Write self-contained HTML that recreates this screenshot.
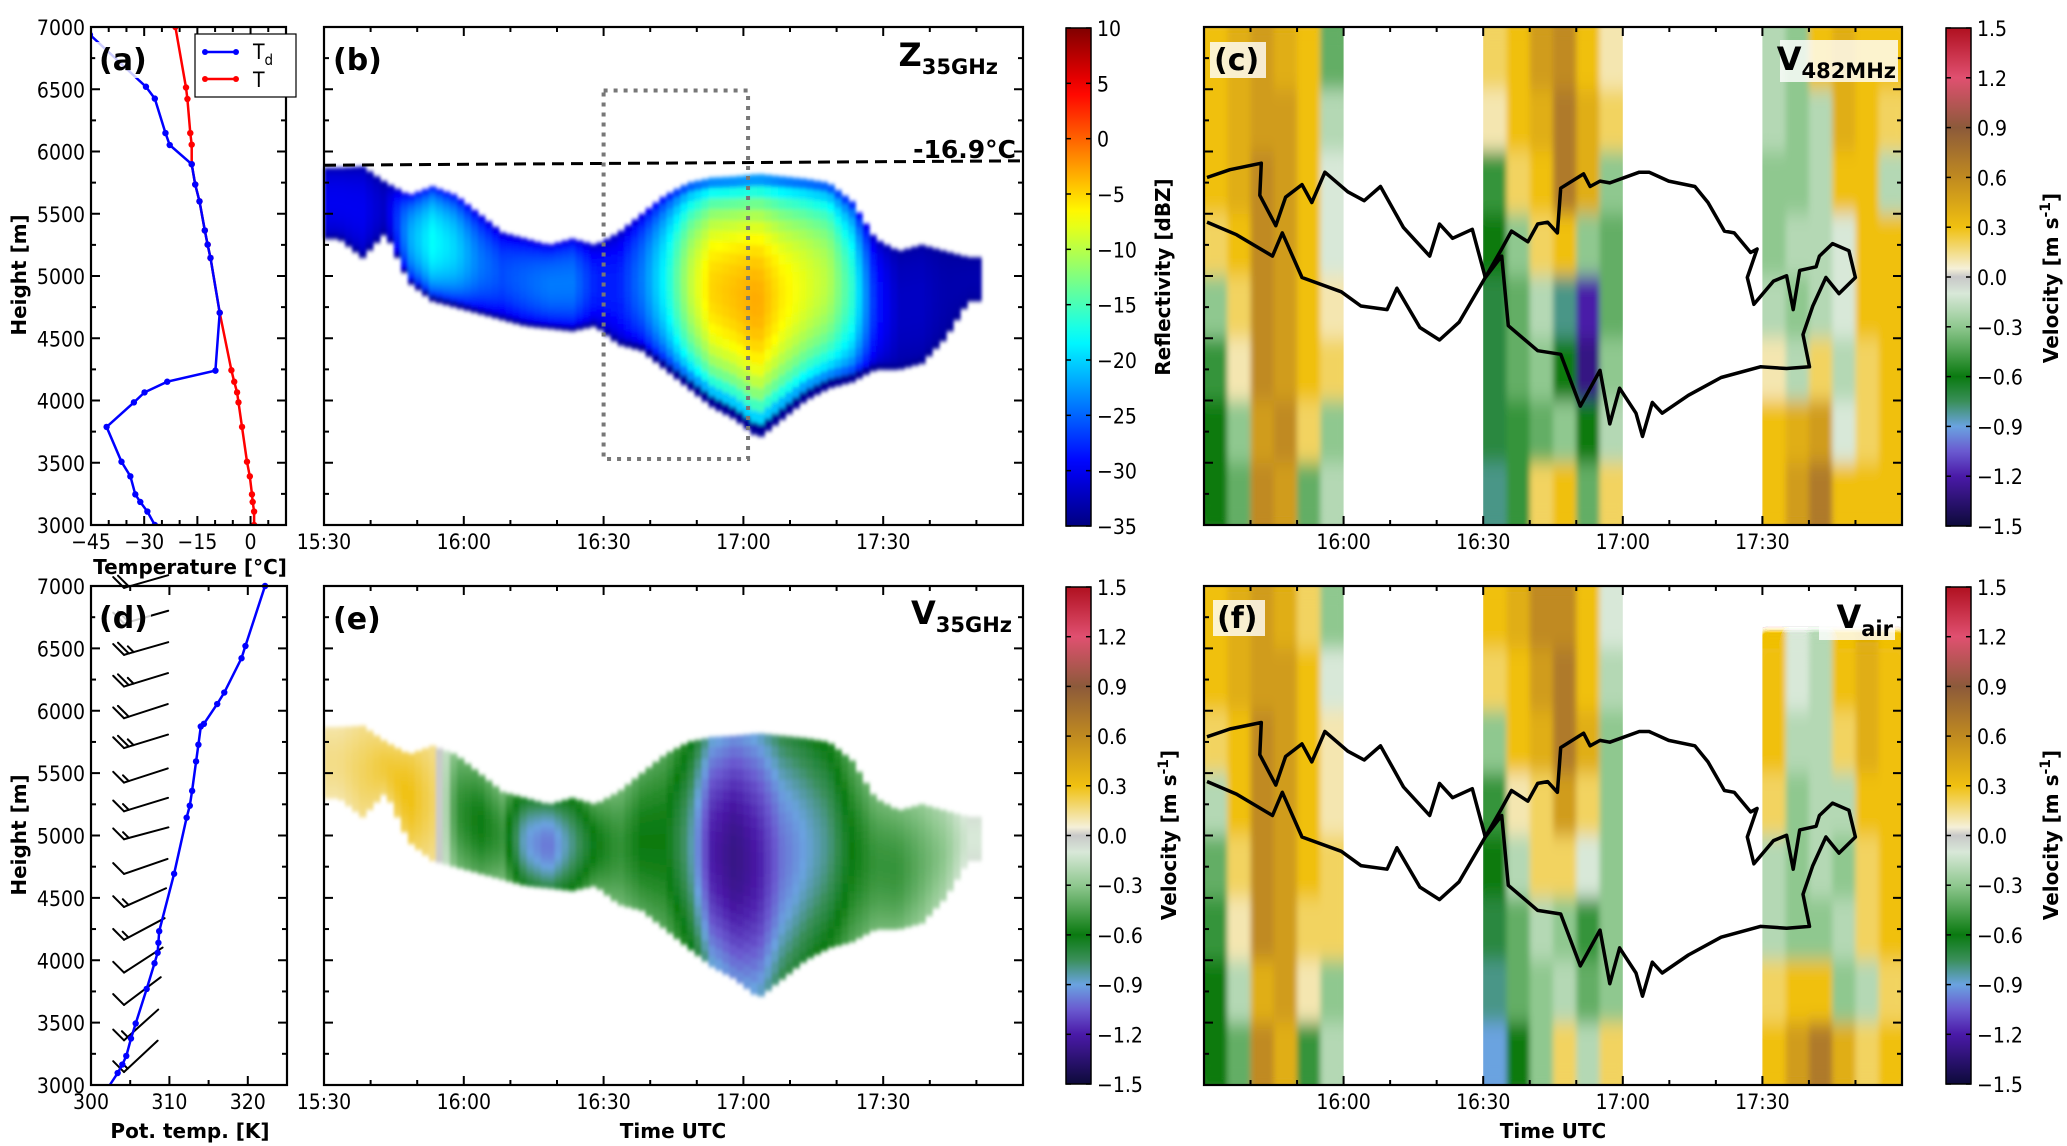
<!DOCTYPE html>
<html><head><meta charset="utf-8">
<style>
body{margin:0;background:#fff}
svg{display:block}
.tk{font-family:"DejaVu Sans Condensed","Liberation Sans Narrow","Liberation Sans",sans-serif;font-size:21px;fill:#000}
.ttl{font-family:"DejaVu Sans","Liberation Sans",sans-serif;font-weight:bold;font-size:20px;fill:#000}
.pl{font-family:"DejaVu Sans","Liberation Sans",sans-serif;font-weight:bold;font-size:30px;fill:#000}
.big{font-family:"DejaVu Sans","Liberation Sans",sans-serif;font-weight:bold;fill:#000}
</style></head>
<body>
<svg id="fig" width="2067" height="1146" viewBox="0 0 2067 1146" xmlns="http://www.w3.org/2000/svg">
<defs id="defs"></defs>
<g id="root"></g>
</svg>
<script>
// ---------- DATA ----------
const tempH = [7000,6514,6422,6148,6055,5898,5735,5600,5366,5252,5145,4705,4243,4151,4065,3985,3788,3508,3391,3246,3185,3108,3000];
const tempC = [-21.2,-18.2,-17.8,-17.0,-16.6,-16.6,-15.6,-14.4,-12.9,-12.1,-11.3,-8.7,-5.4,-4.6,-3.8,-3.4,-2.4,-1.0,-0.2,0.4,0.6,1.0,1.0];
const dewH = [6938,6520,6425,6148,6052,5898,5735,5600,5366,5252,5145,4705,4240,4151,4065,3985,3788,3508,3391,3246,3185,3108,3000];
const dewC = [-45.3,-29.5,-27.0,-24.0,-22.8,-16.6,-15.6,-14.4,-12.9,-12.1,-11.3,-8.7,-9.9,-23.5,-29.9,-32.9,-40.6,-36.4,-33.9,-32.5,-31.1,-29.1,-27.0];
const thetaH = [3096,3164,3233,3373,3493,3770,3976,4060,4140,4233,4693,5143,5239,5358,5594,5728,5874,5895,6054,6146,6421,6519,7000];
const thetaK = [303.4,304.0,304.5,305.1,305.7,307.1,308.1,308.5,308.6,308.7,310.6,312.2,312.6,312.9,313.4,313.7,314.0,314.4,316.1,317.0,319.2,319.7,322.2];
const barbH = [3104,3358,3642,3901,4164,4427,4692,4970,5194,5424,5701,5940,6194,6448,6700,6985];
const barbAngle = [43,42,37,33,28,24,19,15,17,18,17,18,17,16,16,16];
const barbSpeed = [3,3,2,2,3,3,2,3,3,3,5,4,5,5,4,4];
const isoH = [5890,5925];
const boxT = [60,91]; const boxH = [3530,6490];
const colTop  = [5870,5880,5750,5650,5720,5650,5500,5350,5300,5250,5300,5250,5350,5500,5650,5750,5790,5800,5820,5800,5780,5750,5600,5300,5200,5250,5200,5150,null,null];
const colBase = [5300,5150,5350,4950,4800,4750,4700,4650,4600,4580,4560,4600,4450,4400,4250,4100,3950,3850,3700,3850,4000,4100,4150,4250,4250,4300,4500,4800,null,null];
const colZ    = [-30,-30,-32,-22,-18,-20,-24,-26,-25,-24,-24,-28,-28,-24,-18,-10,-5,-4,-3,-6,-8,-10,-16,-28,-32,-32,-33,-33,null,null];
const colV    = [0.15,0.2,0.25,0.3,0.2,-0.5,-0.6,-0.5,-0.9,-1.0,-0.8,-0.6,-0.5,-0.6,-0.6,-0.8,-1.2,-1.3,-1.2,-1.0,-0.9,-0.8,-0.6,-0.5,-0.5,-0.4,-0.3,-0.1,null,null];
const velC1 = [[0.3,0.4,0.5,0.4,0.3,-0.4],[0.3,0.4,0.5,0.5,0.3,-0.2],[0.3,0.4,0.6,0.5,0.3,-0.1],[0.2,0.3,0.6,0.5,0.3,-0.1],[-0.3,0.2,0.6,0.5,0.3,0.1],[-0.5,0.1,0.6,0.5,0.3,0.2],[-0.6,-0.3,0.5,0.6,0.2,-0.3],[-0.6,-0.4,0.6,0.5,-0.4,-0.2]];
const velC2 = [[0.2,0.3,0.5,0.6,0.3,0.1],[0.1,0.3,0.4,0.7,0.4,0.2],[-0.5,0.2,0.3,0.7,0.4,-0.3],[-0.6,-0.3,0.2,0.3,-0.3,-0.4],[-0.7,-0.4,-0.2,-0.8,-1.2,-0.4],[-0.7,-0.4,-0.3,-0.6,-1.3,-0.3],[-0.7,-0.5,-0.4,-0.3,-0.6,-0.2],[-0.8,-0.5,0.2,0.3,-0.4,0.2]];
const velC3 = [[-0.2,-0.3,0.3,0.4,0.3,0.3],[-0.2,-0.3,-0.2,0.4,0.3,0.2],[-0.3,-0.3,-0.2,0.3,0.3,-0.2],[-0.3,-0.2,-0.2,-0.1,0.3,0.3],[-0.2,-0.3,-0.2,-0.1,0.3,0.3],[0.1,-0.2,0.2,-0.2,0.2,0.3],[0.3,0.4,0.5,-0.1,0.2,0.3],[0.3,0.5,0.7,0.3,0.3,0.3]];
const velF1 = [[0.3,0.4,0.5,0.4,0.2,-0.3],[0.3,0.4,0.5,0.5,0.3,-0.1],[0.2,0.3,0.6,0.5,0.3,0.1],[-0.2,0.3,0.6,0.5,0.3,0.1],[-0.4,0.2,0.6,0.5,0.3,0.2],[-0.5,0.1,0.6,0.5,0.2,0.2],[-0.6,-0.2,0.4,0.5,0.1,-0.3],[-0.6,-0.4,0.6,0.4,-0.5,-0.2]];
const velF2 = [[0.3,0.4,0.6,0.6,0.3,-0.1],[0.2,0.3,0.5,0.7,0.3,-0.2],[-0.3,0.3,0.4,0.7,0.4,-0.3],[-0.5,0.1,0.2,0.5,0.2,-0.3],[-0.6,-0.2,0.2,0.2,-0.1,-0.3],[-0.7,-0.4,-0.2,-0.3,-0.5,-0.3],[-0.8,-0.4,-0.3,-0.2,-0.4,-0.3],[-0.9,-0.6,-0.3,0.2,-0.2,0.2]];
const velF3 = [[null,null,null,null,null,null],[0.3,-0.1,-0.2,0.3,0.4,0.3],[0.3,-0.2,-0.2,0.2,0.4,0.3],[0.2,-0.3,-0.2,-0.2,0.3,0.3],[-0.2,-0.3,-0.2,-0.3,0.2,0.3],[-0.2,-0.3,-0.3,-0.2,0.2,0.3],[0.2,0.3,0.3,-0.3,-0.2,0.2],[0.3,0.5,0.7,0.4,0.2,0.3]];
const sectionStart = [0,60,120];
const contourT = [0.64,5.57,12.32,12.0,15.42,17.53,21.05,23.16,25.98,30.9,34.42,37.94,42.87,48.5,50.61,53.42,57.65,60.46,63.98,66.09,69.61,71.72,73.83,75.94,76.65,81.57,82.98,85.09,87.2,93.54,95.65,99.87,105.5,108.32,111.83,113.95,117.46,118.87,116.76,118.17,122.39,125.21,126.61,128.02,131.54,132.24,135.06,138.58,139.98,136.47,133.65,130.84,128.72,130.13,125.21,119.58,111.13,104.09,98.46,96.35,94.24,92.83,89.31,87.2,85.09,80.87,76.65,71.72,65.39,63.98,60.46,54.83,50.61,46.39,41.46,39.35,33.72,29.5,21.05,16.83,14.72,6.98,0.64];
const contourH = [5791,5854,5906,5648,5404,5633,5734,5590,5834,5676,5605,5719,5389,5160,5418,5303,5375,4988,5217,5361,5275,5418,5432,5346,5705,5820,5719,5762,5748,5834,5834,5762,5719,5590,5361,5346,5189,5217,4988,4773,4959,5002,4730,5045,5074,5160,5260,5203,4988,4859,4988,4759,4529,4271,4257,4271,4185,4042,3898,3984,3712,3898,4099,3812,4242,3955,4371,4400,4601,5160,4988,4629,4486,4586,4902,4730,4759,4873,4988,5346,5160,5332,5433];
const timeTickLabels = ['15:30','16:00','16:30','17:00','17:30'];
const heightTicks = [3000,3500,4000,4500,5000,5500,6000,6500,7000];
const tempTicks = [-45,-30,-15,0];
const thetaTicks = [300,310,320];
const zTicks = [10,5,0,-5,-10,-15,-20,-25,-30,-35];
const vTicks = [1.5,1.2,0.9,0.6,0.3,0.0,-0.3,-0.6,-0.9,-1.2,-1.5];

// ---------- SETUP ----------
const NS='http://www.w3.org/2000/svg';
const root=document.getElementById('root');
const defs=document.getElementById('defs');
function mk(tag,attrs,parent){const e=document.createElementNS(NS,tag);for(const k in attrs)e.setAttribute(k,attrs[k]);(parent||root).appendChild(e);return e;}
const P={a:{x0:91,x1:286,y0:27,y1:525},b:{x0:324,x1:1023,y0:27,y1:525},c:{x0:1204,x1:1902,y0:27,y1:525},
d:{x0:91,x1:287,y0:586,y1:1085},e:{x0:324,x1:1023,y0:586,y1:1085},f:{x0:1204,x1:1902,y0:586,y1:1085}};
const xT=(p,t)=>p.x0+t/150*(p.x1-p.x0);
const yH=(p,h)=>p.y1-(h-3000)/4000*(p.y1-p.y0);
const xTemp=t=>P.a.x0+(t+45)/55*(P.a.x1-P.a.x0);
const xTh=k=>P.d.x0+(k-300)/25*(P.d.x1-P.d.x0);
const fmt=v=>(v<0?'\u2212':'')+Math.abs(v);
const clamp=v=>Math.max(0,Math.min(1,v));
function jet(z){const f=(z+35)/45;const r=clamp(1.5-Math.abs(4*f-3)),g=clamp(1.5-Math.abs(4*f-2)),b=clamp(1.5-Math.abs(4*f-1));return `rgb(${Math.round(r*255)},${Math.round(g*255)},${Math.round(b*255)})`;}
const vStops=[[-1.5,[13,10,58]],[-1.2,[74,26,168]],[-1.05,[106,90,208]],[-0.9,[106,163,224]],[-0.75,[58,143,90]],[-0.6,[10,122,16]],[-0.3,[143,200,143]],[-0.1,[216,232,216]],[0,[200,200,200]],[0.05,[245,240,216]],[0.3,[240,192,16]],[0.6,[192,138,32]],[0.9,[140,90,58]],[1.2,[224,80,112]],[1.5,[176,16,32]]];
function vcol(v){v=Math.max(-1.5,Math.min(1.5,v));for(let i=0;i<vStops.length-1;i++){const [a,ca]=vStops[i],[b,cb]=vStops[i+1];if(v<=b){const f=(v-a)/(b-a);return `rgb(${ca.map((c,j)=>Math.round(c+(cb[j]-c)*f)).join(',')})`;}}return 'rgb(176,16,32)';}

const gz=mk('linearGradient',{id:'gz',x1:0,y1:1,x2:0,y2:0},defs);
for(let i=0;i<=30;i++){mk('stop',{offset:i/30,'stop-color':jet(-35+45*i/30)},gz);}
const gv=mk('linearGradient',{id:'gv',x1:0,y1:1,x2:0,y2:0},defs);
for(let i=0;i<=60;i++){mk('stop',{offset:i/60,'stop-color':vcol(-1.5+3*i/60)},gv);}
const flt=mk('filter',{id:'bl',filterUnits:'userSpaceOnUse',x:1100,y:0,width:900,height:1146},defs);
mk('feGaussianBlur',{stdDeviation:'3 9'},flt);
const ct=mk('feComponentTransfer',{},flt);mk('feFuncA',{type:'linear',slope:'30'},ct);
const flt2=mk('filter',{id:'bl2',filterUnits:'userSpaceOnUse',x:300,y:0,width:760,height:1146},defs);
mk('feGaussianBlur',{stdDeviation:'1.6 2.2'},flt2);

function frame(p,name){const r=mk('rect',{x:p.x0,y:p.y0,width:p.x1-p.x0,height:p.y1-p.y0,fill:'none',stroke:'#000','stroke-width':2.2});

}
function tickX(p,xs,len){const g=mk('g',{stroke:'#000','stroke-width':2});


xs.forEach(x=>{mk('line',{x1:x,x2:x,y1:p.y1,y2:p.y1-len},g);mk('line',{x1:x,x2:x,y1:p.y0,y2:p.y0+len},g);});}
function tickY(p,ys,len){const g=mk('g',{stroke:'#000','stroke-width':2});


ys.forEach(y=>{mk('line',{x1:p.x0,x2:p.x0+len,y1:y,y2:y},g);mk('line',{x1:p.x1,x2:p.x1-len,y1:y,y2:y},g);});}
function txt(x,y,s,cls,anchor,name){const t=mk('text',{x:x,y:y,class:cls,'text-anchor':anchor||'start'});t.textContent=s;


return t;}
function rotTxt(x,y,s,name){const t=mk('text',{x:x,y:y,class:'ttl','text-anchor':'middle',transform:`rotate(-90 ${x} ${y})`});
t.textContent=s;


return t;}
function heightAxis(p,labels){const maj=[],min=[];for(let h=3000;h<=7000;h+=250){(h%500?min:maj).push(yH(p,h));}
tickY(p,maj,9);tickY(p,min,5);
if(labels){heightTicks.forEach(h=>txt(p.x0-6,yH(p,h)+8,String(h),'tk','end','y-tick-label'));}}
function timeAxis(p,labels){const maj=[],min=[];for(let t=0;t<=150;t+=10){(t%30?min:maj).push(xT(p,t));}
tickX(p,maj,9);tickX(p,min,5);
timeTickLabels.forEach((s,i)=>{if(!labels[i])return;txt(xT(p,30*i),p.y1+24,s,'tk','middle','x-tick-label');});}
function panelLabel(x,y,w,s,name){const r=mk('rect',{x:x-4,y:y-28,width:w,height:36,fill:'#fff','fill-opacity':0.8});


txt(x,y,s,'pl','start',name);}
function symLabel(xr,y,main,sub,name){const bg=mk('rect',{x:xr-(main.length*24+sub.length*14)-8,y:y-30,width:main.length*24+sub.length*14+10,height:42,fill:'#fff','fill-opacity':0.8});


const t=mk('text',{x:xr,y:y,class:'big','text-anchor':'end'});


const a=mk('tspan',{'font-size':32},t);a.textContent=main;const b=mk('tspan',{'font-size':21,dy:8},t);b.textContent=sub;}
function colorbar(x,y0,y1,grad,ticks,fmtf,name){const r=mk('rect',{x:x,y:y0,width:25,height:y1-y0,fill:`url(#${grad})`,stroke:'#000','stroke-width':1.5});


const n=ticks.length-1;ticks.forEach((v,i)=>{const y=y0+(y1-y0)*i/n;
mk('line',{x1:x,x2:x+5,y1:y,y2:y,stroke:'#000','stroke-width':1.5});mk('line',{x1:x+25,x2:x+20,y1:y,y2:y,stroke:'#000','stroke-width':1.5});
txt(x+31,y+8,fmtf(v),'tk','start','colorbar-tick-label');});}
function vel(x,y,name){const t=mk('text',{x:x,y:y,class:'ttl','text-anchor':'middle',transform:`rotate(-90 ${x} ${y})`});


t.appendChild(document.createTextNode('Velocity [m s'));const s=mk('tspan',{dy:-8,'font-size':14},t);s.textContent='-1';const e=mk('tspan',{dy:8},t);e.textContent=']';}

// ---------- PANEL (a) ----------
{const p=P.a;
const cp=mk('clipPath',{id:'clipA'},defs);mk('rect',{x:p.x0,y:p.y0,width:p.x1-p.x0,height:p.y1-p.y0},cp);
const mkLine=(xs,hs,col,name)=>{const pts=xs.map((v,i)=>`${xTemp(v).toFixed(1)},${yH(p,hs[i]).toFixed(1)}`).join(' ');
const g=mk('g',{'clip-path':'url(#clipA)'});
const l=mk('polyline',{points:pts,fill:'none',stroke:col,'stroke-width':2.5},g);


xs.forEach((v,i)=>{const c=mk('circle',{cx:xTemp(v),cy:yH(p,hs[i]),r:3.2,fill:col},g);

});};
mkLine(tempC,tempH,'#f00','temperature-line');
mkLine(dewC,dewH,'#00f','dewpoint-line');
frame(p,'sounding-axes');heightAxis(p,true);
const maj=tempTicks.map(xTemp),min=[];for(let t=-40;t<=10;t+=5)if(t%15)min.push(xTemp(t));tickX(p,maj,9);tickX(p,min,5);
tempTicks.forEach(t=>txt(xTemp(t),p.y1+24,fmt(t),'tk','middle','x-tick-label'));
txt(190,574,'Temperature [\u00B0C]','ttl','middle','x-axis-title');
rotTxt(26,275,'Height [m]','y-axis-title');
panelLabel(99,70,56,'(a)','panel-label-a');
const lg=mk('g',{});
mk('rect',{x:195,y:34,width:101,height:63,fill:'#fff',stroke:'#000','stroke-width':1.2},lg);
mk('line',{x1:205,x2:236,y1:52,y2:52,stroke:'#00f','stroke-width':2.5},lg);mk('circle',{cx:205,cy:52,r:3,fill:'#00f'},lg);mk('circle',{cx:236,cy:52,r:3,fill:'#00f'},lg);
mk('line',{x1:205,x2:236,y1:79,y2:79,stroke:'#f00','stroke-width':2.5},lg);mk('circle',{cx:205,cy:79,r:3,fill:'#f00'},lg);mk('circle',{cx:236,cy:79,r:3,fill:'#f00'},lg);
const t1=mk('text',{x:253,y:59,class:'tk'},lg);t1.textContent='T';const sb=mk('tspan',{dy:6,'font-size':15},t1);sb.textContent='d';
const t2=txt(253,87,'T','tk','start','legend-entry-t');lg.appendChild(t2);}

// ---------- PANEL (d) ----------
{const p=P.d;
const bg=mk('g',{stroke:'#000','stroke-width':2,fill:'none','stroke-linecap':'round'});


barbH.forEach((h,i)=>{const x=124,y=yH(p,h),a=barbAngle[i]*Math.PI/180,L=46;
const b=mk('g',{},bg);
mk('line',{x1:x,y1:y,x2:x+L*Math.cos(a),y2:y-L*Math.sin(a)},b);
let n=barbSpeed[i],k=0;while(n>0){const full=n>=2;const ox=x+k*5*Math.cos(a),oy=y-k*5*Math.sin(a);const len=full?15:8;
mk('line',{x1:ox,y1:oy,x2:ox-len*0.72,y2:oy-len*0.72},b);n-=full?2:1;k++;}});
const pts=thetaK.map((v,i)=>`${xTh(v).toFixed(1)},${yH(p,thetaH[i]).toFixed(1)}`);
const ext=`${xTh(302.4).toFixed(1)},${yH(p,3000).toFixed(1)} `;
const l=mk('polyline',{points:ext+pts.join(' '),fill:'none',stroke:'#00f','stroke-width':2.5});


thetaK.forEach((v,i)=>{const c=mk('circle',{cx:xTh(v),cy:yH(p,thetaH[i]),r:3.2,fill:'#00f'});

});
frame(p,'theta-axes');heightAxis(p,true);
tickX(p,thetaTicks.map(xTh),9);tickX(p,[305,315,325].map(xTh),5);
thetaTicks.forEach(k=>txt(xTh(k),p.y1+24,String(k),'tk','middle','x-tick-label'));
txt(190,1138,'Pot. temp. [K]','ttl','middle','x-axis-title');
rotTxt(26,835,'Height [m]','y-axis-title');
panelLabel(99,628,56,'(d)','panel-label-d');}

// ---------- PANELS (b),(e) ----------
function cloudPanel(p,mode){
const g=mk('g',{filter:'url(#bl2)'});


const n=colTop.length;
const val=(arr,t)=>{const f=t/5-0.5;let i=Math.floor(f),fr=f-i;if(i<0){i=0;fr=0;}if(i>=n-1){i=n-1;fr=0;}
const a=arr[i],b=arr[Math.min(n-1,i+1)];if(a==null)return null;if(b==null)return fr<0.5?a:null;return a+(b-a)*fr;};
for(let t=0;t<150;t+=1.5){const top=val(colTop,t),base=val(colBase,t);if(top==null||base==null)continue;
const pk=val(colZ,t),vv=val(colV,t);const rows=22;
for(let r=0;r<rows;r++){const h1=top-(top-base)*r/rows,h2=top-(top-base)*(r+1)/rows;const u=(r+0.5)/rows;
let fill;if(mode==='z'){const s=Math.pow(Math.sin(Math.PI*Math.min(1,u*1.03)),0.38);fill=jet(-34+(pk+34)*s);}
else{fill=vcol(vv*(0.72+0.28*Math.sin(Math.PI*u)));}
const c=mk('rect',{x:xT(p,t).toFixed(1),y:yH(p,h1).toFixed(1),width:(1.5/150*(p.x1-p.x0)+0.6).toFixed(1),height:(yH(p,h2)-yH(p,h1)+0.6).toFixed(1),fill:fill},g);

}}
frame(p,mode==='z'?'reflectivity-axes':'velocity-axes');heightAxis(p,false);timeAxis(p,[1,1,1,1,1]);}
cloudPanel(P.b,'z');
{const p=P.b;
const dl=mk('line',{x1:p.x0,x2:p.x1,y1:yH(p,isoH[0]),y2:yH(p,isoH[1]),stroke:'#000','stroke-width':3,'stroke-dasharray':'12 7'});


txt(1016,158,'-16.9\u00B0C','big','end','isotherm-label').setAttribute('font-size','25');
const bx=mk('rect',{x:xT(p,boxT[0]),y:yH(p,boxH[1]),width:xT(p,boxT[1])-xT(p,boxT[0]),height:yH(p,boxH[0])-yH(p,boxH[1]),fill:'none',stroke:'#777','stroke-width':4,'stroke-dasharray':'4 6'});


panelLabel(333,70,56,'(b)','panel-label-b');
symLabel(998,66,'Z','35GHz','z35-label');}
cloudPanel(P.e,'v');
panelLabel(333,629,56,'(e)','panel-label-e');
symLabel(1012,624,'V','35GHz','v35-label');
txt(673,1138,'Time UTC','ttl','middle','x-axis-title');

// ---------- PANELS (c),(f) ----------
function profPanel(p,grids,name){
const cp=mk('clipPath',{id:'clip'+name},defs);
sectionStart.forEach(s=>mk('rect',{x:xT(p,s),y:p.y0,width:xT(p,s+30)-xT(p,s),height:p.y1-p.y0},cp));
const outer=mk('g',{'clip-path':`url(#clip${name})`});
const g=mk('g',{filter:'url(#bl)'},outer);


grids.forEach((grid,si)=>{grid.forEach((row,r)=>row.forEach((v,c)=>{if(v==null)return;
const t=sectionStart[si]+5*c,h=7000-500*r;
const cell=mk('rect',{x:xT(p,t),y:yH(p,h),width:xT(p,t+5)-xT(p,t)+0.5,height:yH(p,h-500)-yH(p,h)+0.5,fill:vcol(v)},g);

}));});
const d=contourT.map((t,i)=>`${i?'L':'M'}${xT(p,t).toFixed(1)},${yH(p,contourH[i]).toFixed(1)}`).join(' ');
const pc=mk('path',{d:d,fill:'none',stroke:'#000','stroke-width':3.5,'stroke-linejoin':'round'});


frame(p,name+'-axes');heightAxis(p,false);timeAxis(p,[0,1,1,1,1]);}
profPanel(P.c,[velC1,velC2,velC3],'c');
panelLabel(1214,70,56,'(c)','panel-label-c');
symLabel(1896,70,'V','482MHz','v482-label');
profPanel(P.f,[velF1,velF2,velF3],'f');
panelLabel(1217,628,52,'(f)','panel-label-f');
symLabel(1893,628,'V','air','vair-label');
txt(1553,1138,'Time UTC','ttl','middle','x-axis-title');

// ---------- COLORBARS ----------
colorbar(1066,28,526,'gz',zTicks,fmt,'reflectivity-colorbar');
rotTxt(1170,277,'Reflectivity [dBZ]','colorbar-title');
colorbar(1946,28,526,'gv',vTicks,v=>(v<0?'\u2212':'')+Math.abs(v).toFixed(1),'velocity-colorbar-c');
vel(2058,278,'colorbar-title');
colorbar(1066,587,1084,'gv',vTicks,v=>(v<0?'\u2212':'')+Math.abs(v).toFixed(1),'velocity-colorbar-e');
vel(1176,835,'colorbar-title');
colorbar(1946,587,1084,'gv',vTicks,v=>(v<0?'\u2212':'')+Math.abs(v).toFixed(1),'velocity-colorbar-f');
vel(2058,835,'colorbar-title');
</script>
</body></html>
